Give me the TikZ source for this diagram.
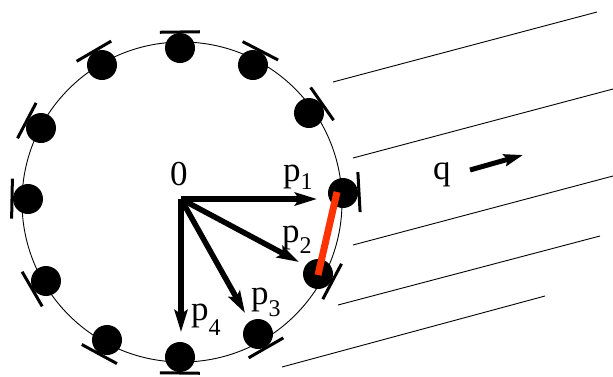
\documentclass[tikz,border=0pt]{standalone}
\usepackage{fontspec}
\setmainfont{Liberation Serif}
\usetikzlibrary{calc,arrows.meta}
\definecolor{barred}{RGB}{255,51,0}
\newcommand{\subsz}{\fontsize{24}{24}\selectfont}
\begin{document}
\begin{tikzpicture}[x=1pt,y=-1pt,
  dot/.style={circle,fill=black,minimum size=30pt,inner sep=0pt},
  tickbar/.style={line width=3pt},
  vec/.style={line width=5.5pt,-{Stealth[length=22pt,width=13pt,inset=4pt]}},
  qvec/.style={line width=5pt,-{Stealth[length=19pt,width=12pt,inset=3pt]}},
  ray/.style={line width=0.9pt},
  lab/.style={anchor=base west,inner sep=0pt,font=\fontsize{35}{35}\selectfont}]
\useasboundingbox (0,0) rectangle (613,376);
% ring
\coordinate (C) at (182,202);
\draw[line width=0.9pt] (C) circle (160);
% dots
\foreach \i/\x/\y in {1/180/48,2/253/65,3/309/113,4/343/193,5/318/274,6/258/334,
                      7/180/357,8/107/340,9/46/281,10/28/199,11/41/128,12/102/65}{
  \node[dot] (d\i) at (\x,\y) {};
  \coordinate (b\i) at ($(d\i.center)!-16pt!(C)$);
  \draw[tickbar] ($(b\i)!20pt!90:(C)$) -- ($(b\i)!20pt!-90:(C)$);
}
% momentum vectors
\coordinate (O) at (181,199);
\coordinate (t1) at (317,199);
\coordinate (t2) at (299,262);
\coordinate (t3) at (245,313);
\coordinate (t4) at (181,332);
\foreach \k in {1,...,4}{\draw[vec] (O) -- (t\k);}
% red link
\draw[barred,line width=7pt] ($(d4.center)+(-6,-1)$) -- ($(d5.center)+(0,1)$);
% incoming wave lines
\draw[ray] (333,82) -- (597,12);
\draw[ray] (353,158) -- (613,89);
\draw[ray] (353,245) -- (613,176);
\draw[ray] (338,305) -- (600,236);
\draw[ray] (282,367) -- (545,296);
% q arrow
\coordinate (q0) at (470,170);
\coordinate (q1) at (523,155);
\draw[qvec] (q0) -- (q1);
% labels
\node[lab] (l0) at (170,185) {0};
\node[lab] (l1) at (283,181) {p\raisebox{-8pt}{\subsz 1}};
\node[lab] (l2) at (282,242) {p\raisebox{-11pt}{\subsz 2}};
\node[lab] (l3) at (251,304) {p\raisebox{-12pt}{\subsz 3}};
\node[lab] (l4) at (191,320) {p\raisebox{-15pt}{\subsz 4}};
\node[lab] (lq) at (433,179) {q};
\end{tikzpicture}
\end{document}
